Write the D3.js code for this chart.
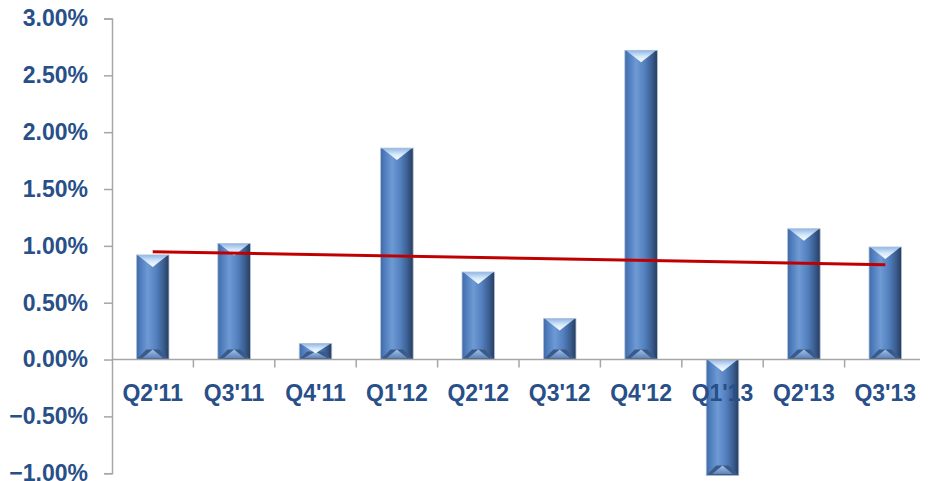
<!DOCTYPE html>
<html>
<head>
<meta charset="utf-8">
<script src="https://cdn.jsdelivr.net/npm/d3@7"></script>
<style>
  html, body { margin: 0; padding: 0; background: #ffffff; }
  svg { display: block; }
</style>
</head>
<body>
<svg id="chart" width="930" height="481"></svg>
<script>
// Quarterly growth rates (%)
const quarters = ["Q2'11", "Q3'11", "Q4'11", "Q1'12", "Q2'12", "Q3'12", "Q4'12", "Q1'13", "Q2'13", "Q3'13"];
const growth = [0.92, 1.02, 0.14, 1.86, 0.77, 0.36, 2.72, -1.02, 1.15, 0.99];
const yTicks = [3.0, 2.5, 2.0, 1.5, 1.0, 0.5, 0.0, -0.5, -1.0];

const svg = d3.select("#chart");
const plotLeft = 112, plotRight = 926, plotTop = 18.5, plotBottom = 473.2;
const textColor = "#284f88";
const axisColor = "#a6a6a6";

const x = d3.scaleBand().domain(quarters).range([plotLeft, plotRight]).paddingInner(0.6).paddingOuter(0.3);
const y = d3.scaleLinear().domain([-1, 3]).range([plotBottom, plotTop]);

// Gradients for the bevelled bars
const defs = svg.append("defs");
const body = defs.append("linearGradient").attr("id", "barBody").attr("x1", 0).attr("x2", 1).attr("y1", 0).attr("y2", 0);
[[0, "#3f6aa6"], [0.12, "#4f7cbc"], [0.35, "#6e9ad4"], [0.6, "#5482c0"], [0.82, "#3c5f92"], [1, "#263c5e"]]
  .forEach(([o, c]) => body.append("stop").attr("offset", o).attr("stop-color", c));
const topG = defs.append("linearGradient").attr("id", "barTop").attr("x1", 0).attr("x2", 0).attr("y1", 0).attr("y2", 1);
[[0, "#8fb6e6"], [0.5, "#d4e7fa"], [1, "#ffffff"]]
  .forEach(([o, c]) => topG.append("stop").attr("offset", o).attr("stop-color", c));
const botG = defs.append("linearGradient").attr("id", "barBottom").attr("x1", 0).attr("x2", 0).attr("y1", 0).attr("y2", 1);
[[0, "#a3c0e6"], [1, "#5f84b9"]]
  .forEach(([o, c]) => botG.append("stop").attr("offset", o).attr("stop-color", c));

// Y axis
const yAxis = svg.append("g").attr("transform", `translate(${plotLeft},0)`)
  .call(d3.axisLeft(y).tickValues(yTicks).tickSize(8).tickPadding(16)
    .tickFormat(d => d3.format(".2f")(d) + "%"));
yAxis.select(".domain").attr("stroke", axisColor).attr("stroke-width", 1.5);
yAxis.selectAll(".tick line").attr("stroke", axisColor).attr("stroke-width", 1.5);
yAxis.selectAll(".tick text")
  .attr("fill", textColor).attr("font-family", "'Liberation Sans', Arial, sans-serif")
  .attr("font-weight", "bold").attr("font-size", 23);

// Bars
const bars = svg.append("g");
quarters.forEach((q, i) => {
  const v = growth[i];
  const x0 = x(q), w = x.bandwidth(), x1 = x0 + w, cx = x0 + w / 2;
  const y0 = Math.min(y(v), y(0)), y1 = Math.max(y(v), y(0));
  const h = y1 - y0;
  const b = Math.min(10, h / 2, w / 2);
  const g = bars.append("g");
  g.append("rect").attr("x", x0).attr("y", y0).attr("width", w).attr("height", h)
    .attr("fill", "url(#barBody)");
  // bottom bevel
  g.append("path")
    .attr("d", `M${x0},${y1}L${x1},${y1}L${x1 - b},${y1 - b}L${x0 + b},${y1 - b}Z`)
    .attr("fill", "#3a5b8a");
  g.append("path")
    .attr("d", `M${x0 + b * 0.6},${y1 - 1.5}L${x1 - b * 0.6},${y1 - 1.5}L${cx},${y1 - b}Z`)
    .attr("fill", "url(#barBottom)");
  // top bevel
  g.append("path")
    .attr("d", `M${x0 + 1},${y0}L${x1 - 1},${y0}L${cx},${y0 + b * 1.2}Z`)
    .attr("fill", "url(#barTop)");
  g.append("rect").attr("x", x0).attr("y", y0).attr("width", w).attr("height", h)
    .attr("fill", "none").attr("stroke", "#b3c3d8").attr("stroke-width", 0.8);
});

// X axis on the zero line, ticks between categories
const xg = svg.append("g");
xg.append("line").attr("x1", plotLeft).attr("x2", 920).attr("y1", y(0)).attr("y2", y(0))
  .attr("stroke", axisColor).attr("stroke-width", 1.5);
quarters.slice(1).forEach(q => {
  const tx = x(q) - x.step() * x.paddingInner() / 2;
  xg.append("line").attr("x1", tx).attr("x2", tx).attr("y1", y(0)).attr("y2", y(0) + 8)
    .attr("stroke", axisColor).attr("stroke-width", 1.5);
});
xg.selectAll("text").data(quarters).join("text")
  .attr("x", d => x(d) + x.bandwidth() / 2)
  .attr("y", y(0) + 41)
  .attr("text-anchor", "middle")
  .attr("fill", textColor).attr("font-family", "'Liberation Sans', Arial, sans-serif")
  .attr("font-weight", "bold").attr("font-size", 23)
  .text(d => d);

// Linear trend line through the series
const n = growth.length;
const idx = d3.range(1, n + 1);
const mx = d3.mean(idx), my = d3.mean(growth);
const slope = d3.sum(idx, (k, j) => (k - mx) * (growth[j] - my)) / d3.sum(idx, k => (k - mx) ** 2);
const fit = k => my + slope * (k - mx);
svg.append("line")
  .attr("x1", x(quarters[0]) + x.bandwidth() / 2).attr("y1", y(fit(1)))
  .attr("x2", x(quarters[n - 1]) + x.bandwidth() / 2).attr("y2", y(fit(n)))
  .attr("stroke", "#c00000").attr("stroke-width", 3);
</script>
</body>
</html>
